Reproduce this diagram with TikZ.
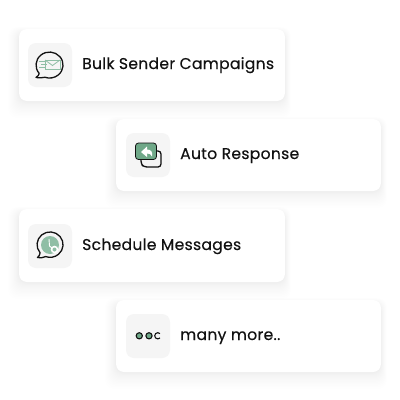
\documentclass[tikz,border=0pt]{standalone}
\usepackage{fontspec}
\setmainfont{Poppins}
\definecolor{ink}{HTML}{111111}
\definecolor{tile}{HTML}{F5F5F5}
\definecolor{gr}{HTML}{6FA888}
\definecolor{lgr}{HTML}{8FBEA5}
\tikzset{
  card/.style={fill=white,rounded corners=8pt},
  tilebox/.style={fill=tile,rounded corners=8pt},
  lab/.style={anchor=base west,inner sep=0pt,font=\fontsize{15.6pt}{17pt}\selectfont\addfontfeatures{LetterSpace=1.8,FakeBold=0.25},text=ink},
  ic/.style={draw=ink,line width=1.3pt,line join=round},
}
\newcommand{\mycard}[4]{%
  \foreach \i in {1,...,20}{
    \pgfmathsetmacro{\tt}{(\i/20)^2}
    \fill[black,opacity=0.0045,rounded corners=9pt]
      (#1-\tt*11,#2-\tt*5+3) rectangle (#1+#3+\tt*6,#2+#4+\tt*17);
  }
  \fill[card] (#1,#2) rectangle (#1+#3,#2+#4);
}
\begin{document}
\begin{tikzpicture}[x=1pt,y=-1pt]
\useasboundingbox (0,0) rectangle (400,400);
\fill[white] (0,0) rectangle (400,400);
\mycard{19}{29}{266}{72}
\mycard{116}{119}{265}{72}
\mycard{19}{209}{266}{73}
\mycard{116}{300}{265}{72}
\fill[tilebox] (28,43) rectangle (72,87);
\fill[tilebox] (126,133) rectangle (170,177);
\fill[tilebox] (28,224) rectangle (72,268);
\fill[tilebox] (126,314) rectangle (170,358);
\node[lab] (t1) at (82,69) {Bulk Sender Campaigns};
\node[lab] (t2) at (180,159) {Auto Response};
\node[lab] (t3) at (82,250) {Schedule Messages};
\node[lab] (t4) at (180,340) {many more..};
% icon 1
\begin{scope}[draw=lgr,line width=0.8pt]
\draw (45,60) rectangle (60,69);
\draw (45,60) -- (52.5,65.5) -- (60,60);
\draw (39,61.5) -- (45,61.5) (41,64.5) -- (47,64.5) (39,67.5) -- (45,67.5);
\end{scope}
\draw[ic] (39.2,73.4) arc[start angle=140,end angle=470,x radius=13.5,y radius=13]
  .. controls (42,78) and (39,78) .. (36,77.5) .. controls (38,76) and (39,75) .. (39.2,73.4);
% icon 2
\draw[ic,fill=tile,rounded corners=3pt] (141,151) -- (161,151) -- (161,167) -- (144,167) -- (141,164) -- cycle;
\draw[draw=ink,line width=0.8pt,fill=gr,rounded corners=3pt] (135.5,143) -- (156.5,143) -- (156.5,159.5) -- (135.5,159.5) -- cycle;
\fill[white] (141,152) -- (147,146.5) -- (147,149.5) .. controls (151,149.5) and (153,152) .. (152,156.5) .. controls (151,154) and (149.5,153.5) .. (147,153.5) -- (147,157) -- cycle;
% icon 3
\fill[lgr] (50,245) circle (9);
\draw[white,line width=0.9pt] (49,239) -- (49.5,246) -- (52,248);
\fill[white] (54.5,249.5) circle (3.8);
\fill[lgr] (54.5,249.5) circle (2);
\draw[ic] (40.1,252.8) arc[start angle=140,end angle=470,x radius=13,y radius=12.7]
  .. controls (43,258) and (40,258) .. (37.5,257.5) .. controls (39,256) and (40,255) .. (40.1,252.8);
% icon 4
\draw[draw=ink,line width=1.1pt,fill=gr] (139.3,335.8) circle (3.1);
\draw[draw=ink,line width=1.1pt,fill=gr] (149,335.8) circle (3.1);
\draw[draw=ink,line width=1.1pt] (160,333.6) arc[start angle=-45,end angle=-315,radius=3.1];
\end{tikzpicture}
\end{document}
